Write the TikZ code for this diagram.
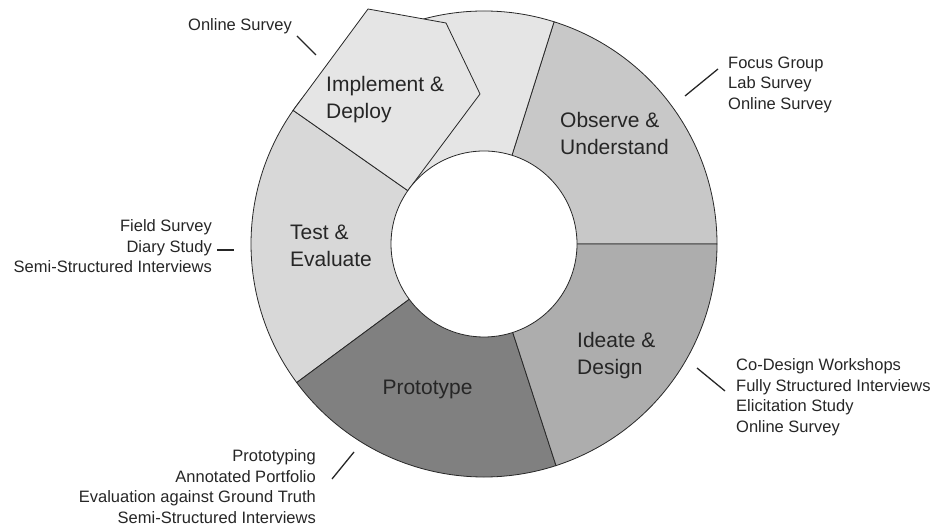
\documentclass[tikz,border=0pt]{standalone}
\usepackage{fontspec}
\setmainfont{Liberation Sans}
\usetikzlibrary{calc}
\definecolor{cObs}{RGB}{200,200,200}
\definecolor{cIde}{RGB}{173,173,173}
\definecolor{cPro}{RGB}{128,128,128}
\definecolor{cTes}{RGB}{216,216,216}
\definecolor{cImp}{RGB}{229,229,229}
\definecolor{cEdge}{RGB}{40,40,40}
\begin{document}
\begin{tikzpicture}[x=1pt,y=1pt,
  seg/.style={draw=cEdge, line width=0.8pt},
  small/.style={font=\fontsize{16.5}{20.5}\selectfont, inner sep=0pt, text=black!85},
  big/.style={font=\fontsize{21}{26.5}\selectfont, inner sep=0pt, align=left, text=black!85},
  conn/.style={line width=1.3pt, draw=black!85}]
\useasboundingbox (0,0) rectangle (936,529);
\coordinate (C) at (484,285);
\def\ro{233}
\def\ri{93}
% segments
\draw[seg, fill=cObs] (C) -- ($(C)+(0:\ro)$) arc[start angle=0, end angle=72.5, radius=\ro] -- cycle;
\draw[seg, fill=cImp] (C) -- ($(C)+(72.5:\ro)$) arc[start angle=72.5, end angle=145, radius=\ro] -- cycle;
\draw[seg, fill=cTes] (C) -- ($(C)+(145:\ro)$) arc[start angle=145, end angle=216.5, radius=\ro] -- cycle;
\draw[seg, fill=cPro] (C) -- ($(C)+(216.5:\ro)$) arc[start angle=216.5, end angle=288, radius=\ro] -- cycle;
\draw[seg, fill=cIde] (C) -- ($(C)+(288:\ro)$) arc[start angle=288, end angle=360, radius=\ro] -- cycle;
% exploded pentagon
\draw[seg, fill=cImp] (368,520) -- (446,506) -- (480,435) -- ($(C)+(145:\ri)$) -- ($(C)+(145:\ro)$) -- cycle;
% hole
\draw[seg, fill=white] (C) circle[radius=\ri];
% phase labels (anchor = baseline of last line)
\node[big, anchor=base west] (impl) at (326,410.5) {Implement \&\\Deploy};
\node[big, anchor=base west] (obs) at (560,374.5) {Observe \&\\Understand};
\node[big, anchor=base west] (idea) at (577,154.5) {Ideate \&\\Design};
\node[big, anchor=base] (proto) at (427.5,134) {Prototype};
\node[big, anchor=base west] (test) at (290,262.5) {Test \&\\Evaluate};
% method labels
\node[small, anchor=base east] (mImp) at (292,498) {Online Survey};
\node[small, anchor=base west, align=left] (mObs) at (728,419.5) {Focus Group\\Lab Survey\\Online Survey};
\node[small, anchor=base east, align=right] (mTes) at (212,256) {Field Survey\\Diary Study\\Semi-Structured Interviews};
\node[small, anchor=base west, align=left] (mIde) at (736,96.5) {Co-Design Workshops\\Fully Structured Interviews\\Elicitation Study\\Online Survey};
\node[small, anchor=base east, align=right] (mPro) at (316,5.5) {Prototyping\\Annotated Portfolio\\Evaluation against Ground Truth\\Semi-Structured Interviews};
% connectors
\coordinate (a1) at (297,493); \coordinate (b1) at (316,474);
\coordinate (a2) at (685,433); \coordinate (b2) at (718,460);
\coordinate (a3) at (217,279); \coordinate (b3) at (234,279);
\coordinate (a4) at (697,161); \coordinate (b4) at (725,138);
\coordinate (a5) at (332,50);  \coordinate (b5) at (354,77);
\draw[conn] (a1) -- (b1);
\draw[conn] (a2) -- (b2);
\draw[conn] (a3) -- (b3);
\draw[conn] (a4) -- (b4);
\draw[conn] (a5) -- (b5);
\end{tikzpicture}
\end{document}
